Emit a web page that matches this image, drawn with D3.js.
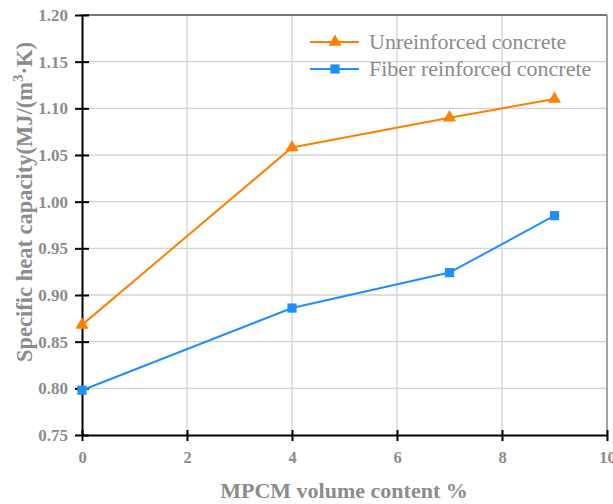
<!DOCTYPE html>
<html><head><meta charset="utf-8">
<script src="https://cdn.jsdelivr.net/npm/d3@7"></script>
<style>body{margin:0;background:#fff}svg{display:block}</style>
</head><body>
<script>
const xValues = [0, 4, 7, 9];
const unreinforced = [0.868, 1.058, 1.090, 1.110];
const fiber = [0.798, 0.886, 0.924, 0.985];
const seriesNames = ["Unreinforced concrete", "Fiber reinforced concrete"];
const xTicks = [0, 2, 4, 6, 8, 10];
const yTicks = [0.75, 0.80, 0.85, 0.90, 0.95, 1.00, 1.05, 1.10, 1.15, 1.20];

const W = 613, H = 504;
const svg = d3.select("body").append("svg").attr("width", W).attr("height", H);
const x = d3.scaleLinear().domain([0, 10]).range([82, 607]);
const y = d3.scaleLinear().domain([0.75, 1.20]).range([435, 15]);
const font = "'Liberation Serif','Times New Roman',serif";
const gray = "#8c8c8c";

// grid
svg.append("g").selectAll("line").data(xTicks.slice(1)).join("line")
  .attr("x1", d => x(d)).attr("x2", d => x(d)).attr("y1", y(1.20)).attr("y2", y(0.75))
  .attr("stroke", "#d4d4d4").attr("stroke-width", 1.3);
svg.append("g").selectAll("line").data(yTicks.slice(1)).join("line")
  .attr("x1", x(0)).attr("x2", x(10)).attr("y1", d => y(d)).attr("y2", d => y(d))
  .attr("stroke", "#d4d4d4").attr("stroke-width", 1.3);
// top/right frame
svg.append("line").attr("x1", x(0)).attr("x2", x(10)).attr("y1", y(1.2)).attr("y2", y(1.2)).attr("stroke", "#555").attr("stroke-width", 1.5);
svg.append("line").attr("x1", x(10)).attr("x2", x(10)).attr("y1", y(1.2)).attr("y2", y(0.75)).attr("stroke", "#777").attr("stroke-width", 1.2);

// axes
const xAxis = svg.append("g").attr("transform", `translate(0,${y(0.75)})`)
  .call(d3.axisBottom(x).tickValues(xTicks).tickFormat(d3.format("d")).tickSizeInner(6).tickSizeOuter(0).tickPadding(10));
const yAxis = svg.append("g").attr("transform", `translate(${x(0)},0)`)
  .call(d3.axisLeft(y).tickValues(yTicks).tickFormat(d3.format(".2f")).tickSizeInner(7).tickSizeOuter(0).tickPadding(7));
[xAxis, yAxis].forEach(a => {
  a.select(".domain").attr("stroke", "#000").attr("stroke-width", 2);
  a.selectAll(".tick line").attr("stroke", "#000").attr("stroke-width", 2);
  a.selectAll("text").attr("fill", gray).attr("font-family", font).attr("font-weight", "bold").attr("font-size", 17);
});
xAxis.selectAll("text").attr("font-size", 16.5);
xAxis.selectAll(".tick line").attr("y1", -5);
yAxis.selectAll(".tick line").attr("x1", 7);

// axis titles
svg.append("text").attr("x", 344).attr("y", 498).attr("text-anchor", "middle")
  .attr("font-family", font).attr("font-weight", "bold").attr("font-size", 22).attr("fill", gray)
  .text("MPCM volume content %");
const yt = svg.append("text").attr("transform", `translate(32,202) rotate(-90)`).attr("text-anchor", "middle")
  .attr("font-family", font).attr("font-weight", "bold").attr("font-size", 22.5).attr("fill", gray);
yt.append("tspan").text("Specific heat capacity(MJ/(m");
yt.append("tspan").attr("dy", -9).attr("font-size", 15).text("3");
yt.append("tspan").attr("dy", 9).text("·K)");

const colors = ["#ff8000", "#1e8fff"];
const datasets = [unreinforced, fiber];
const line = d3.line().x((d, i) => x(xValues[i])).y(d => y(d));
datasets.forEach((ds, k) => {
  svg.append("path").datum(ds).attr("d", line).attr("fill", "none").attr("stroke", colors[k]).attr("stroke-width", 2);
});
const tri = d3.symbol().type(d3.symbolTriangle).size(75);
const sq = d3.symbol().type(d3.symbolSquare).size(85);
svg.append("g").selectAll("path").data(unreinforced).join("path")
  .attr("transform", (d, i) => `translate(${x(xValues[i])},${y(d)})`).attr("d", tri).attr("fill", colors[0]);
svg.append("g").selectAll("path").data(fiber).join("path")
  .attr("transform", (d, i) => `translate(${x(xValues[i])},${y(d)})`).attr("d", sq).attr("fill", colors[1]);

// legend
const lg = svg.append("g");
seriesNames.forEach((name, k) => {
  const ly = 42 + k * 27;
  lg.append("line").attr("x1", 310).attr("x2", 359).attr("y1", ly).attr("y2", ly).attr("stroke", colors[k]).attr("stroke-width", 2);
  lg.append("path").attr("transform", `translate(335,${ly})`).attr("d", k === 0 ? tri : sq).attr("fill", colors[k]);
  lg.append("text").attr("x", 369).attr("y", ly + 7).attr("font-family", font).attr("font-size", 22).attr("fill", gray).text(name);
});
</script>
</body></html>
